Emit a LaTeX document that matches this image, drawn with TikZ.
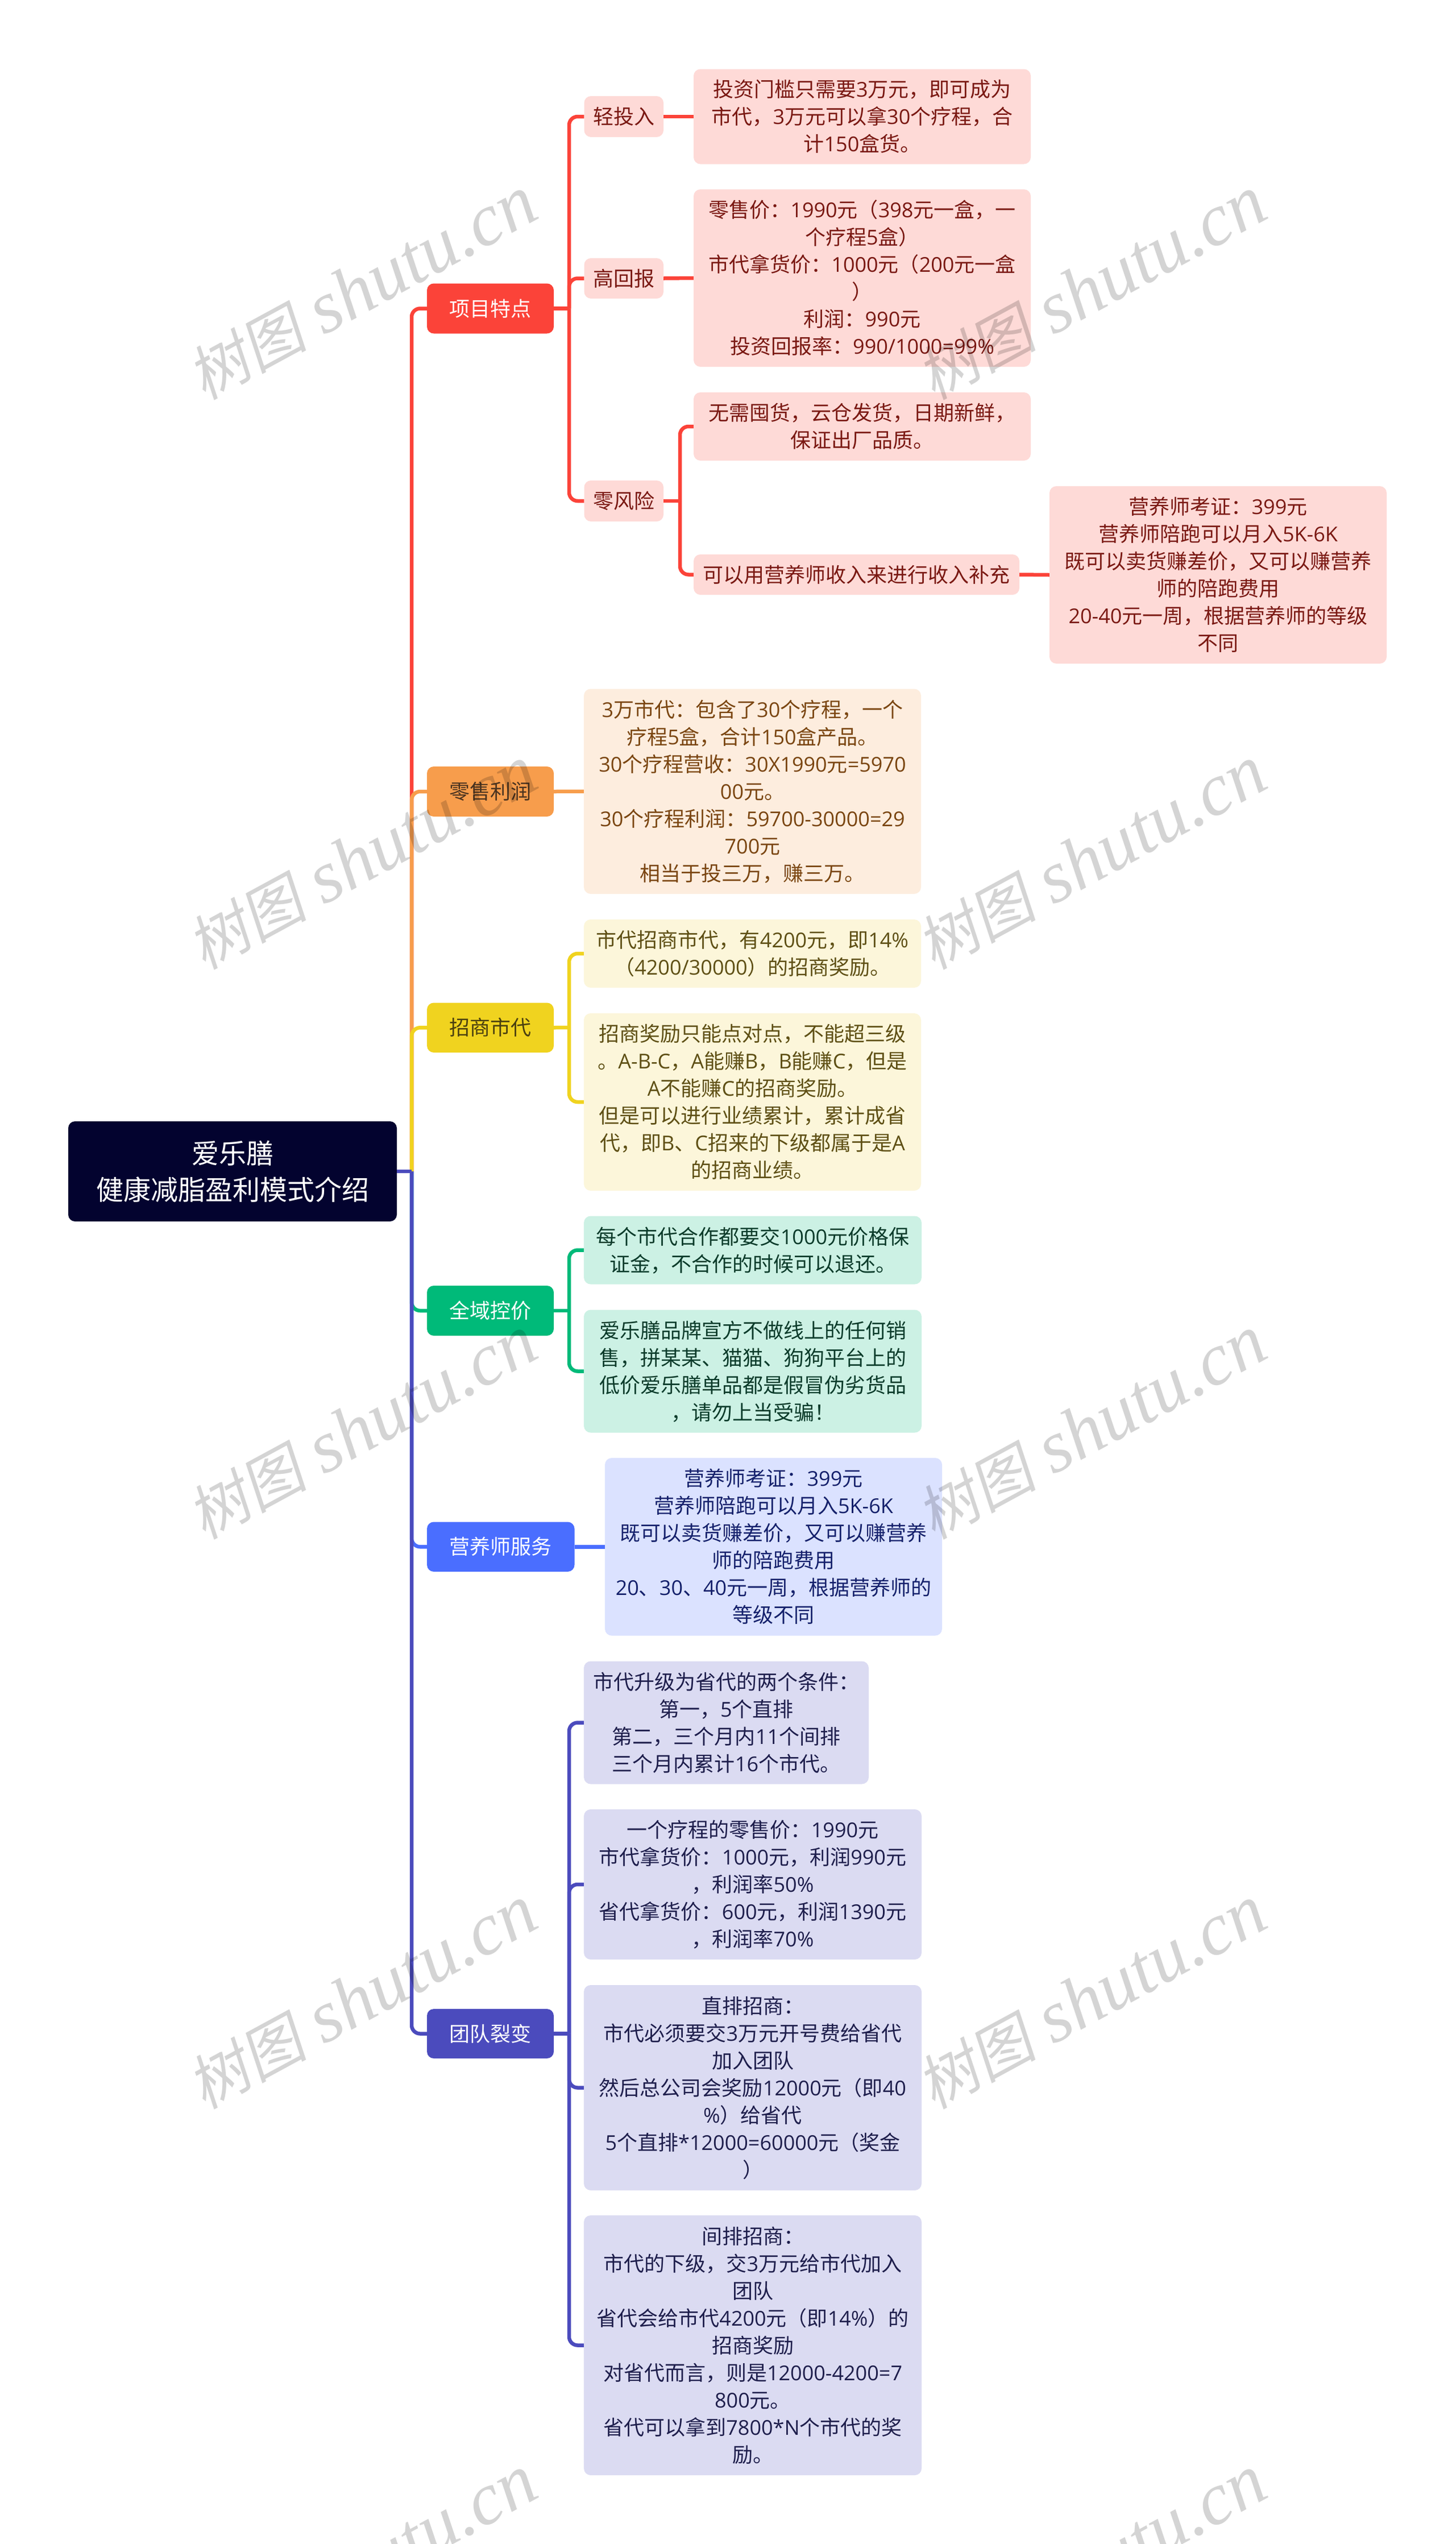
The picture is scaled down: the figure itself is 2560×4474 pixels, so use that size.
\documentclass[tikz,border=0pt]{standalone}
\usepackage{fontspec}
\setmainfont{Noto Sans CJK SC}
\newfontfamily\wmcjk[FakeSlant=0.18]{Noto Sans CJK SC}
\newfontfamily\wmlat{Liberation Serif}
\newfontfamily\latfont{Open Sans}
\newcommand{\lt}[1]{{\latfont #1}}
\definecolor{cred}{HTML}{FB4339}\definecolor{fred}{HTML}{FEDAD7}\definecolor{tred}{HTML}{7A1812}
\definecolor{cora}{HTML}{F79D4C}\definecolor{fora}{HTML}{FDEDDE}\definecolor{tora}{HTML}{7A4510}\definecolor{mora}{HTML}{4A3320}
\definecolor{cyel}{HTML}{F0D31F}\definecolor{fyel}{HTML}{FCF6DA}\definecolor{tyel}{HTML}{5E4F14}\definecolor{myel}{HTML}{4A4010}
\definecolor{cgre}{HTML}{00BA79}\definecolor{fgre}{HTML}{CCF1E4}\definecolor{tgre}{HTML}{0B3B2A}
\definecolor{cblu}{HTML}{4A6EFF}\definecolor{fblu}{HTML}{DBE2FF}\definecolor{tblu}{HTML}{14206B}
\definecolor{cpur}{HTML}{4B4BBD}\definecolor{fpur}{HTML}{DBDBF2}\definecolor{tpur}{HTML}{1E1E4C}
\definecolor{croot}{HTML}{03032F}
\newcommand{\st}{\rule[-.286em]{0pt}{1.333em}}
\newcommand{\nd}[7]{\node[#1,minimum width={(#5-#3)*1pt},minimum height={(#6-#4)*1pt}] (#2) at ({(#3+#5)/2},{(#4+#6)/2}) {\st #7\st};}
\newcommand{\wm}[2]{\node[watermark,rotate=28.5] (wm#1) at #2 {{\wmcjk\fontsize{105pt}{120pt}\selectfont 树图} {\wmlat\itshape shutu.cn}};}
\tikzset{
  boxbase/.style={rectangle,rounded corners=12pt,inner sep=0pt,align=center,font=\fontsize{36pt}{48pt}\selectfont},
  rootbox/.style={boxbase,fill=croot,text=white,font=\fontsize{48pt}{64.5pt}\selectfont},
  redmain/.style={boxbase,fill=cred,text=white},
  oramain/.style={boxbase,fill=cora,text=mora},
  yelmain/.style={boxbase,fill=cyel,text=myel},
  gremain/.style={boxbase,fill=cgre,text=white},
  blumain/.style={boxbase,fill=cblu,text=white},
  purmain/.style={boxbase,fill=cpur,text=white},
  redbox/.style={boxbase,fill=fred,text=tred},
  orabox/.style={boxbase,fill=fora,text=tora},
  yelbox/.style={boxbase,fill=fyel,text=tyel},
  grebox/.style={boxbase,fill=fgre,text=tgre},
  blubox/.style={boxbase,fill=fblu,text=tblu},
  purbox/.style={boxbase,fill=fpur,text=tpur},
  conn/.style={line width=6.5pt},
  elbow/.style={line width=6.5pt,rounded corners=15pt},
  watermark/.style={inner sep=0pt,text=black,text opacity=0.17,font=\fontsize{130pt}{130pt}\selectfont},
}
\begin{document}
\begin{tikzpicture}[x=1pt,y=-1pt]
\useasboundingbox (0,0) rectangle (2560,4474);
\clip (0,0) rectangle (2560,4474);
\fill[white] (0,0) rectangle (2560,4474);
% root
\nd{rootbox}{root}{120}{1972}{698}{2148}{爱乐膳\\健康减脂盈利模式介绍}
% level 1
\nd{redmain}{a}{751}{498.5}{974}{586.5}{项目特点}
\nd{oramain}{b}{751}{1348}{974}{1436}{零售利润}
\nd{yelmain}{c}{751}{1763.5}{974}{1851}{招商市代}
\nd{gremain}{d}{751}{2261}{974}{2349}{全域控价}
\nd{blumain}{e}{751}{2676.5}{1010.5}{2764}{营养师服务}
\nd{purmain}{f}{751}{3533}{974}{3620}{团队裂变}
% red branch
\nd{redbox}{a1}{1027.5}{169}{1167}{241}{轻投入}
\nd{redbox}{a2}{1027.5}{454}{1167}{525}{高回报}
\nd{redbox}{a3}{1027.5}{845}{1167}{917}{零风险}
\nd{redbox}{a1x}{1220}{121.5}{1813}{288.5}{投资门槛只需要\lt{3}万元，即可成为\\市代，\lt{3}万元可以拿\lt{30}个疗程，合\\计\lt{150}盒货。}
\nd{redbox}{a2x}{1220}{333}{1813}{645}{零售价：\lt{1990}元（\lt{398}元一盒，一\\个疗程\lt{5}盒）\\市代拿货价：\lt{1000}元（\lt{200}元一盒\\）\\利润：\lt{990}元\\投资回报率：\lt{990/1000=99\%}}
\nd{redbox}{a3x}{1220}{690}{1813}{810}{无需囤货，云仓发货，日期新鲜，\\保证出厂品质。}
\nd{redbox}{a3y}{1220}{975}{1793}{1046}{可以用营养师收入来进行收入补充}
\nd{redbox}{a3z}{1846}{855}{2439}{1167}{营养师考证：\lt{399}元\\营养师陪跑可以月入\lt{5K-6K}\\既可以卖货赚差价，又可以赚营养\\师的陪跑费用\\\lt{20-40}元一周，根据营养师的等级\\不同}
% orange
\nd{orabox}{b1}{1027}{1211.5}{1620}{1572}{\lt{3}万市代：包含了\lt{30}个疗程，一个\\疗程\lt{5}盒，合计\lt{150}盒产品。\\\lt{30}个疗程营收：\lt{30X1990}元\lt{=5970}\\\lt{00}元。\\\lt{30}个疗程利润：\lt{59700-30000=29}\\\lt{700}元\\相当于投三万，赚三万。}
% yellow
\nd{yelbox}{c1}{1027}{1617}{1620}{1737}{市代招商市代，有\lt{4200}元，即\lt{14\%}\\（\lt{4200/30000}）的招商奖励。}
\nd{yelbox}{c2}{1027}{1782}{1620}{2094}{招商奖励只能点对点，不能超三级\\。\lt{A-B-C}，\lt{A}能赚\lt{B}，\lt{B}能赚\lt{C}，但是\\\lt{A}不能赚\lt{C}的招商奖励。\\但是可以进行业绩累计，累计成省\\代，即\lt{B}、\lt{C}招来的下级都属于是\lt{A}\\的招商业绩。}
% green
\nd{grebox}{d1}{1027}{2138.5}{1621}{2258.5}{每个市代合作都要交\lt{1000}元价格保\\证金，不合作的时候可以退还。}
\nd{grebox}{d2}{1027}{2303.5}{1621}{2519.5}{爱乐膳品牌宣方不做线上的任何销\\售，拼某某、猫猫、狗狗平台上的\\低价爱乐膳单品都是假冒伪劣货品\\，请勿上当受骗！}
% blue
\nd{blubox}{e1}{1064}{2564}{1657}{2876.5}{营养师考证：\lt{399}元\\营养师陪跑可以月入\lt{5K-6K}\\既可以卖货赚差价，又可以赚营养\\师的陪跑费用\\\lt{20}、\lt{30}、\lt{40}元一周，根据营养师的\\等级不同}
% purple
\nd{purbox}{f1}{1027}{2921.5}{1528}{3137.5}{市代升级为省代的两个条件：\\第一，\lt{5}个直排\\第二，三个月内\lt{11}个间排\\三个月内累计\lt{16}个市代。}
\nd{purbox}{f2}{1027}{3182}{1621}{3446}{一个疗程的零售价：\lt{1990}元\\市代拿货价：\lt{1000}元，利润\lt{990}元\\，利润率\lt{50\%}\\省代拿货价：\lt{600}元，利润\lt{1390}元\\，利润率\lt{70\%}}
\nd{purbox}{f3}{1027}{3491}{1621}{3852}{直排招商：\\市代必须要交\lt{3}万元开号费给省代\\加入团队\\然后总公司会奖励\lt{12000}元（即\lt{40}\\\lt{\%}）给省代\\\lt{5}个直排\lt{*12000=60000}元（奖金\\）}
\nd{purbox}{f4}{1027}{3896}{1621}{4353}{间排招商：\\市代的下级，交\lt{3}万元给市代加入\\团队\\省代会给市代\lt{4200}元（即\lt{14\%}）的\\招商奖励\\对省代而言，则是\lt{12000-4200=7}\\\lt{800}元。\\省代可以拿到\lt{7800*N}个市代的奖\\励。}
% junctions
\coordinate (j) at (724,2060);
\coordinate (ja) at (1001,542.5);
\coordinate (ja3) at (1196,881);
\coordinate (jc) at (1001,1807);
\coordinate (jd) at (1001,2305);
\coordinate (jf) at (1001,3576.5);
% trunk connectors
\draw[elbow,cred] (j) |- (a.west);
\draw[elbow,cora] (j) |- (b.west);
\draw[elbow,cyel] (j) |- (c.west);
\draw[elbow,cgre] (j) |- (d.west);
\draw[elbow,cblu] (j) |- (e.west);
\draw[elbow,cpur] (j) |- (f.west);
\draw[conn,cpur] (root.east) -- (j);
% red
\draw[conn,cred] (a.east) -- (ja);
\draw[elbow,cred] (ja) |- (a1.west);
\draw[elbow,cred] (ja) |- (a2.west);
\draw[elbow,cred] (ja) |- (a3.west);
\draw[conn,cred] (a1.east) -- (a1x.west);
\draw[conn,cred] (a2.east) -- (a2x.west);
\draw[conn,cred] (a3.east) -- (ja3);
\draw[elbow,cred] (ja3) |- (a3x.west);
\draw[elbow,cred] (ja3) |- (a3y.west);
\draw[conn,cred] (a3y.east) -- (a3z.west);
% orange
\draw[conn,cora] (b.east) -- (b1.west);
% yellow
\draw[conn,cyel] (c.east) -- (jc);
\draw[elbow,cyel] (jc) |- (c1.west);
\draw[elbow,cyel] (jc) |- (c2.west);
% green
\draw[conn,cgre] (d.east) -- (jd);
\draw[elbow,cgre] (jd) |- (d1.west);
\draw[elbow,cgre] (jd) |- (d2.west);
% blue
\draw[conn,cblu] (e.east) -- (e1.west);
% purple
\draw[conn,cpur] (f.east) -- (jf);
\draw[elbow,cpur] (jf) |- (f1.west);
\draw[elbow,cpur] (jf) |- (f2.west);
\draw[elbow,cpur] (jf) |- (f3.west);
\draw[elbow,cpur] (jf) |- (f4.west);
% watermarks
\wm{a}{(637,507)}\wm{b}{(1920,507)}
\wm{c}{(637,1509)}\wm{d}{(1920,1509)}
\wm{e}{(637,2511)}\wm{g}{(1920,2511)}
\wm{h}{(637,3513)}\wm{i}{(1920,3513)}
\wm{k}{(637,4515)}\wm{l}{(1920,4515)}
\end{tikzpicture}
\end{document}
